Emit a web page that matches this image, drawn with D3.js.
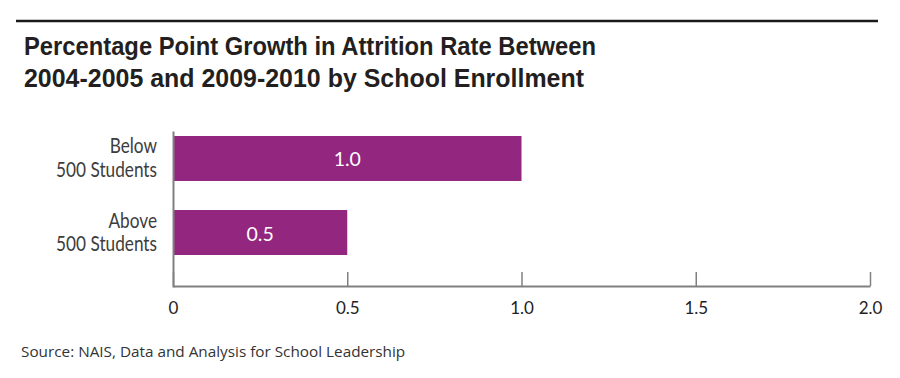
<!DOCTYPE html>
<html>
<head>
<meta charset="utf-8">
<script src="https://cdn.jsdelivr.net/npm/d3@7"></script>
<style>
  html, body { margin: 0; padding: 0; background: #fff; }
  svg { display: block; }
</style>
</head>
<body>
<svg id="chart" width="900" height="378"></svg>
<script>
const titleLines = ["Percentage Point Growth in Attrition Rate Between", "2004-2005 and 2009-2010 by School Enrollment"];
const categories = [["Below", "500 Students"], ["Above", "500 Students"]];
const values = [1.0, 0.5];
const valueLabels = ["1.0", "0.5"];
const tickValues = [0, 0.5, 1.0, 1.5, 2.0];
const tickLabels = ["0", "0.5", "1.0", "1.5", "2.0"];
const sourceText = "Source: NAIS, Data and Analysis for School Leadership";

const svg = d3.select("#chart");
const barColor = "#93267f";
const axisColor = "#808080";
const titleWidths = [572, 560];

// top rule
svg.append("line").attr("x1", 16).attr("x2", 878).attr("y1", 21).attr("y2", 21)
  .attr("stroke", "#1a1a1a").attr("stroke-width", 2.5);

// title
svg.append("g").selectAll("text").data(titleLines).join("text")
  .attr("x", 24).attr("y", (d, i) => 55 + i * 32)
  .attr("font-family", "'Liberation Sans', Arial, sans-serif")
  .attr("font-weight", "bold").attr("font-size", 25).attr("fill", "#231f20")
  .attr("textLength", (d, i) => titleWidths[i]).attr("lengthAdjust", "spacingAndGlyphs")
  .text(d => d);

const x = d3.scaleLinear().domain([0, 2]).range([173, 870]);
const y = d3.scaleBand().domain(d3.range(categories.length)).range([130, 261])
  .paddingInner(0.392).paddingOuter(0.081);

// bars
svg.append("g").selectAll("rect").data(values).join("rect")
  .attr("x", x(0)).attr("y", (d, i) => y(i))
  .attr("width", d => x(d) - x(0)).attr("height", y.bandwidth())
  .attr("fill", barColor);

// value labels
svg.append("g").selectAll("text").data(values).join("text")
  .attr("x", d => (x(0) + x(d)) / 2).attr("y", (d, i) => y(i) + y.bandwidth() / 2 + 8)
  .attr("text-anchor", "middle").attr("fill", "#fff")
  .attr("font-family", "Lato, 'Open Sans', sans-serif").attr("font-size", 19.5)
  .text((d, i) => valueLabels[i]);

// x axis
const xAxis = d3.axisBottom(x).tickValues(tickValues).tickFormat((d, i) => tickLabels[i])
  .tickSizeInner(-14).tickSizeOuter(0).tickPadding(16);
const gx = svg.append("g").attr("transform", "translate(0,286)").call(xAxis);
gx.select(".domain").attr("stroke", axisColor).attr("stroke-width", 2);
gx.selectAll(".tick line").attr("stroke", axisColor).attr("stroke-width", 1.5);
gx.selectAll(".tick text").attr("fill", "#222")
  .attr("font-family", "Lato, 'Open Sans', sans-serif").attr("font-size", 17);

// y axis line
const gy = svg.append("g").attr("transform", "translate(173,0)")
  .call(d3.axisLeft(d3.scaleLinear().domain([0, 1]).range([287, 131])).ticks(0).tickSizeOuter(0));
gy.select(".domain").attr("stroke", axisColor).attr("stroke-width", 2);

// category labels (slightly condensed)
const catG = svg.append("g").attr("transform", "translate(157,0) scale(0.84,1)")
  .selectAll("text").data(categories).join("text")
  .attr("text-anchor", "end")
  .attr("font-family", "Lato, 'Open Sans', sans-serif").attr("font-size", 20.5).attr("fill", "#3d3d3d");
catG.each(function(d, i) {
  const cy = y(i) + y.bandwidth() / 2;
  d3.select(this).selectAll("tspan").data(d).join("tspan")
    .attr("x", 0).attr("y", (t, j) => cy - 5 + j * 24).text(t => t);
});

// source
svg.append("text").attr("x", 21).attr("y", 357)
  .attr("font-family", "'Open Sans', Lato, sans-serif").attr("font-size", 15.3).attr("fill", "#333")
  .text(sourceText);
</script>
</body>
</html>
